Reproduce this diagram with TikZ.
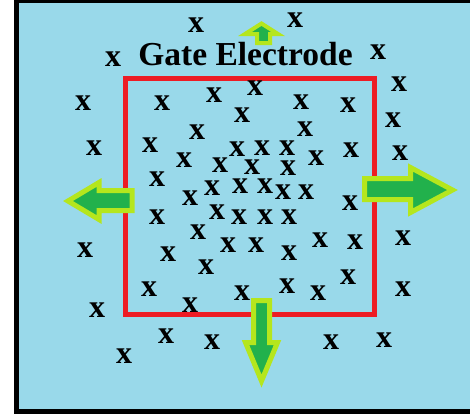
\documentclass[tikz,border=0pt]{standalone}
\usepackage{fontspec}
\setmainfont{Liberation Serif}

\definecolor{bgblue}{HTML}{99D9EA}
\definecolor{gatered}{HTML}{ED1C24}
\definecolor{flowgreen}{HTML}{22B14C}
\definecolor{flowlime}{HTML}{B5E61D}

\begin{document}
\begin{tikzpicture}[
		x=1pt, y=-1pt,
		ion/.style={font=\fontsize{32}{32}\selectfont\bfseries, inner sep=0pt},
		title/.style={font=\fontsize{33.5}{34}\selectfont\bfseries, inner sep=0pt, anchor=base},
		gate/.style={draw=gatered, line width=5pt},
		flow/.style={fill=flowgreen, draw=flowlime, line width=5pt}
	]

	\useasboundingbox (0,0) rectangle (470,413);
	\clip (0,0) rectangle (470,413);

	% substrate
	\fill[bgblue] (16.5,0) rectangle (480,411.5);
	\draw[line width=5pt] (16.5,0) rectangle (480,411.5);

	% gate electrode area
	\draw[gate] (125.5,78.5) rectangle (374.5,314.5);

	% charges
	\foreach \px/\py [count=\i] in {
			196/25, 295/20, 113/59, 378/52, 399/84, 83/103, 393/120, 94/148,
			400/153, 85/250, 403/238, 97/310, 403/289, 124/356, 166/336, 212/342,
			331/342, 384/340,
			162/103, 214/95, 255/88, 301/102, 348/105, 242/115, 305/129, 197/132,
			150/145, 237/149, 262/148, 287/148, 351/150, 184/160, 220/165, 252/167,
			288/168, 316/158, 157/179, 212/188, 240/186, 265/186, 283/192, 306/192,
			190/198, 350/203, 157/217, 217/212, 239/217, 265/217, 289/217, 198/232,
			228/245, 256/245, 289/253, 320/240, 355/242, 168/254, 206/267, 149/289,
			190/305, 242/293, 287/286, 318/293, 348/277} {
			\node[ion] (x\i) at (\px,\py) {x};
		}

	\node[title] (gatetitle) at (245.5,65) {Gate Electrode};

	% arrows
	\draw[flow] (132,190.5) -- (99,190.5) -- (99,182.5) -- (68,201) -- (99,219.5) -- (99,210.5) -- (132,210.5) -- cycle;
	\draw[flow] (364.5,178.5) -- (410.5,178.5) -- (410.5,167.5) -- (452.5,190) -- (410.5,212.5) -- (410.5,199.5) -- (364.5,199.5) -- cycle;
	\draw[flow] (253.5,300.5) -- (269.5,300.5) -- (269.5,342.5) -- (277.5,342.5) -- (261.5,381) -- (245.5,342.5) -- (253.5,342.5) -- cycle;
	\draw[flow, line width=4pt] (257,43) -- (257,34) -- (245,34) -- (261.5,23.5) -- (278,34) -- (270,34) -- (270,43) -- cycle;
\end{tikzpicture}
\end{document}
